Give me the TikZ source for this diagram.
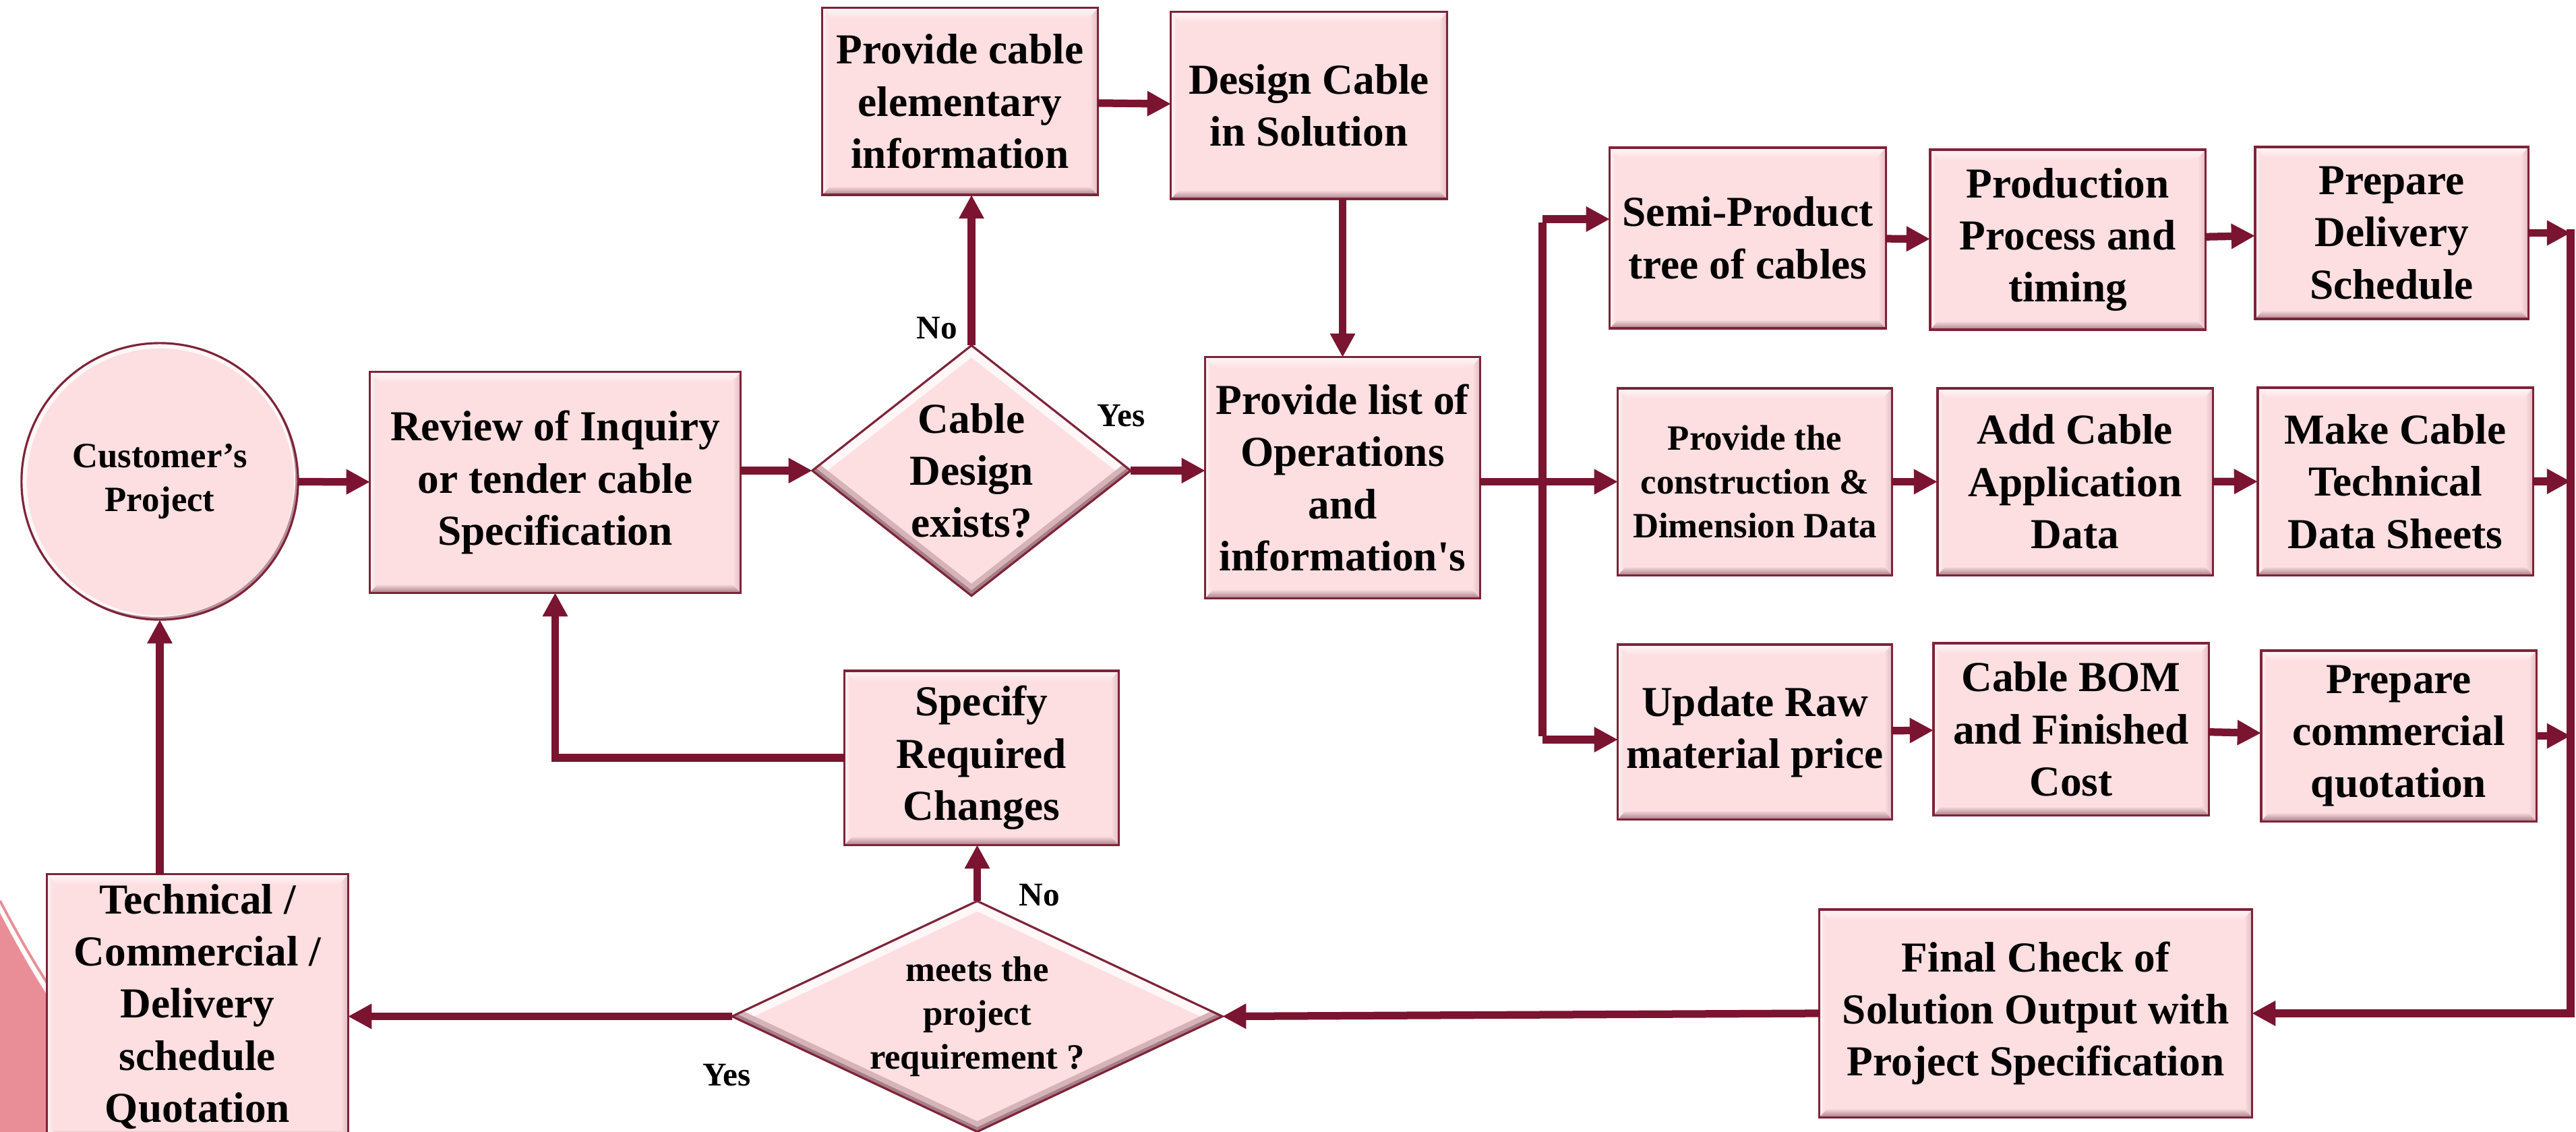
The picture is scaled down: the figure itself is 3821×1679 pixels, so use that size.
\documentclass[tikz,border=0pt]{standalone}
\usepackage{fontspec}
\setmainfont{Liberation Serif}
\usetikzlibrary{shapes.geometric,arrows.meta,calc}

\definecolor{boxfill}{HTML}{FDDEE1}
\definecolor{boxedge}{HTML}{7E2339}
\definecolor{arrowc}{HTML}{7A1430}
\definecolor{bevlight}{HTML}{FFF7F8}
\definecolor{bevdark}{HTML}{A67E86}
\definecolor{bevside}{HTML}{E2BCC2}
\definecolor{decopink}{HTML}{E98E96}

\newcommand\bigtxt{\fontsize{18}{22}\selectfont\bfseries}
\newcommand\smtxt{\fontsize{15}{18.5}\selectfont\bfseries}
\newcommand\lbltxt{\fontsize{14}{16}\selectfont\bfseries}
\newcommand\sq{\XeTeXglyph\XeTeXcharglyph"27\relax}

\tikzset{
  % bevelled rectangle: light top edge, dark bottom edge, shaded sides
  bevelbox/.style={path picture={
    \coordinate (nw) at (path picture bounding box.north west);
    \coordinate (ne) at (path picture bounding box.north east);
    \coordinate (sw) at (path picture bounding box.south west);
    \coordinate (se) at (path picture bounding box.south east);
    \fill[left color=boxfill, right color=bevside] ($(ne)+(-11,12)$) -- (ne) -- (se) -- ($(se)+(-11,-12)$) -- cycle;
    \fill[left color=bevlight, right color=boxfill] (nw) -- ($(nw)+(8,10)$) -- ($(sw)+(8,-10)$) -- (sw) -- cycle;
    \fill[top color=bevlight, bottom color=boxfill] (nw) -- (ne) -- ($(ne)+(-14,16)$) -- ($(nw)+(14,16)$) -- cycle;
    \fill[top color=boxfill, bottom color=bevdark] ($(sw)+(12,-13)$) -- ($(se)+(-12,-13)$) -- (se) -- (sw) -- cycle;
  }},
  flowbox/.style={rectangle, draw=boxedge, line width=0.9pt, fill=boxfill,
    inner sep=0pt, outer sep=0pt, align=center, font=\bigtxt, bevelbox},
  smallbox/.style={flowbox, font=\smtxt},
  % bevelled diamond
  decision/.style={diamond, draw=boxedge, line width=0.9pt, fill=boxfill,
    inner sep=0pt, outer sep=0pt, path picture={
    \coordinate (dw) at (path picture bounding box.west);
    \coordinate (dn) at (path picture bounding box.north);
    \coordinate (de) at (path picture bounding box.east);
    \coordinate (ds) at (path picture bounding box.south);
    \draw[line width=8pt, bevlight] (dw) -- (dn) -- (de);
    \draw[line width=8pt, bevdark!45!boxfill] (dw) -- (ds) -- (de);
    \draw[line width=3.5pt, bevdark] (dw) -- (ds) -- (de);
  }},
  % bevelled round start node
  startnode/.style={circle, draw=boxedge, line width=0.9pt, fill=boxfill,
    inner sep=0pt, outer sep=0pt, path picture={
    \coordinate (cc) at (path picture bounding box.center);
    \fill[bevdark!80!boxfill] (path picture bounding box.south west) rectangle (path picture bounding box.north east);
    \fill[bevlight] ($(cc)+(-4,-4)$) circle (205);
    \fill[boxfill] ($(cc)+(1,1)$) circle (198);
  }},
  arr/.style={draw=arrowc, line width=3.2pt, line join=miter,
    -{Triangle[length=10pt,width=10pt]}},
  conn/.style={draw=arrowc, line width=3.2pt},
  lbl/.style={inner sep=0pt, font=\lbltxt},
}

\begin{document}
\begin{tikzpicture}[x=0.01cm, y=-0.01cm]
\useasboundingbox (0,0) rectangle (3821,1679);

% background swoosh in the lower left corner
\fill[decopink] (0,1354) .. controls (25,1402) and (48,1442) .. (75,1484) -- (75,1679) -- (0,1679) -- cycle;
\draw[decopink, line width=1.1pt] (0,1336) .. controls (25,1384) and (48,1424) .. (75,1466);

% nodes
\node[startnode, minimum size=4.1cm, label={[font=\smtxt, align=center]center:Customer’s\\Project}] (cust) at (237,714) {};
\node[flowbox, minimum width=5.49cm, minimum height=3.27cm] (review) at (823.5,715.5) {Review of Inquiry\\or tender cable\\Specification};
\node[decision, minimum width=4.72cm, minimum height=3.71cm, label={[font=\bigtxt, align=center]center:Cable\\Design\\exists?}] (exists) at (1441,698) {};
\node[flowbox, minimum width=4.08cm, minimum height=2.77cm] (elem) at (1424,150.5) {Provide cable\\elementary\\information};
\node[flowbox, minimum width=4.09cm, minimum height=2.77cm] (design) at (1941.5,156.5) {Design Cable\\in Solution};
\node[flowbox, minimum width=4.07cm, minimum height=3.57cm] (oplist) at (1991.5,708.5) {Provide list of\\Operations\\and\\information\sq s};

\node[flowbox, minimum width=4.09cm, minimum height=2.68cm] (semi) at (2592.5,353) {Semi-Product\\tree of cables};
\node[flowbox, minimum width=4.08cm, minimum height=2.67cm] (prod) at (3067,355.5) {Production\\Process and\\timing};
\node[flowbox, minimum width=4.05cm, minimum height=2.55cm] (deliv) at (3547.5,345.5) {Prepare\\Delivery\\Schedule};

\node[smallbox, minimum width=4.06cm, minimum height=2.77cm] (constr) at (2603,714.5) {Provide the\\construction \&\\Dimension Data};
\node[flowbox, minimum width=4.08cm, minimum height=2.77cm] (appl) at (3078,714.5) {Add Cable\\Application\\Data};
\node[flowbox, minimum width=4.08cm, minimum height=2.78cm] (sheets) at (3553,714) {Make Cable\\Technical\\Data Sheets};

\node[flowbox, minimum width=4.06cm, minimum height=2.59cm] (raw) at (2603,1085.5) {Update Raw\\material price};
\node[flowbox, minimum width=4.08cm, minimum height=2.55cm] (bom) at (3072,1081.5) {Cable BOM\\and Finished\\Cost};
\node[flowbox, minimum width=4.08cm, minimum height=2.53cm] (quot) at (3558,1091.5) {Prepare\\commercial\\quotation};

\node[flowbox, minimum width=6.41cm, minimum height=3.08cm] (final) at (3019.5,1503) {Final Check of\\Solution Output with\\Project Specification};
\node[decision, minimum width=7.27cm, minimum height=3.42cm, label={[font=\smtxt, align=center]center:meets the\\project\\requirement ?}] (meets) at (1449.5,1507.5) {};
\node[flowbox, minimum width=4.06cm, minimum height=2.58cm] (specify) at (1456,1124) {Specify\\Required\\Changes};
\node[flowbox, minimum width=4.46cm, minimum height=3.92cm] (tech) at (293,1493) {Technical /\\Commercial /\\Delivery\\schedule\\Quotation};

% branch labels
\node[lbl] (noA) at (1390,487) {No};
\node[lbl] (yesA) at (1663,617) {Yes};
\node[lbl] (noB) at (1542,1328) {No};
\node[lbl] (yesB) at (1078,1595) {Yes};

% junction points of the distribution and collection lines
\coordinate (brtop) at (2288,325);
\coordinate (brbot) at (2288,1097);
\coordinate (rbot) at (3813,1503);

% connectors
\draw[arr] (cust) -- (review);
\draw[arr] (review.east |- exists.west) -- (exists.west);
\draw[arr] (exists.north) -- (exists.north |- elem.south);
\draw[arr] (elem) -- (design);
\draw[arr] (oplist.north |- design.south) -- (oplist.north);
\draw[arr] (exists.east) -- (exists.east -| oplist.west);

\draw[conn] ([yshift=-0.05cm]brtop) -- ([yshift=0.05cm]brbot);
\draw[arr] (brtop) -- (semi.west |- brtop);
\draw[arr] (oplist.east |- constr.west) -- (constr.west);
\draw[arr] (brbot) -- (raw.west |- brbot);

\draw[arr] (semi) -- (prod);
\draw[arr] (prod) -- (deliv);
\draw[arr] (constr) -- (appl);
\draw[arr] (appl) -- (sheets);
\draw[arr] (raw) -- (bom);
\draw[arr] (bom) -- (quot);

\draw[arr] (deliv.east) -- (deliv.east -| rbot);
\draw[arr] (sheets.east) -- (sheets.east -| rbot);
\draw[arr] (quot.east) -- (quot.east -| rbot);
\draw[arr] ([yshift=0.05cm]rbot |- deliv.east) -- (rbot) -- (final.east);

\draw[arr] (final.west) -- (meets.east);
\draw[arr] (meets.north) -- (meets.north |- specify.south);
\draw[arr] (specify.west) -| (review.south);
\draw[arr] (meets.west) -- (meets.west -| tech.east);
\draw[arr] (cust.south |- tech.north) -- (cust.south);
\end{tikzpicture}
\end{document}
